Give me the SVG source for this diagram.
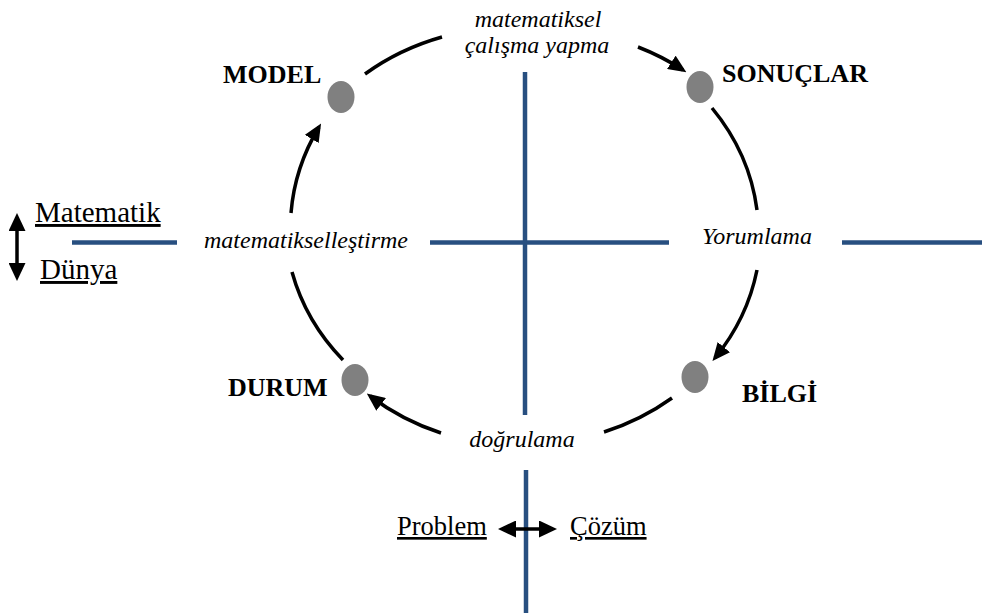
<svg xmlns="http://www.w3.org/2000/svg" width="982" height="613" viewBox="0 0 982 613">
  <style>
    .axis { stroke: #284f80; stroke-width: 4.5; fill: none; }
    .arc { stroke: #000; stroke-width: 3.5; fill: none; }
    .dot { fill: #808080; }
    .node { font-family: "Liberation Serif", "Times New Roman", serif; font-weight: bold; font-size: 26px; fill: #000; }
    .step { font-family: "Liberation Serif", "Times New Roman", serif; font-style: italic; font-size: 24px; fill: #000; text-anchor: middle; }
    .side { font-family: "Liberation Serif", "Times New Roman", serif; font-size: 29px; fill: #000; text-decoration: underline; }
    .dir { stroke: #000; stroke-width: 3.5; fill: none; }
  </style>
  <defs>
    <marker id="head" markerUnits="userSpaceOnUse" markerWidth="18" markerHeight="16" refX="14" refY="8" orient="auto">
      <path d="M0,0 L18,8 L0,16 z" fill="#000"/>
    </marker>
    <marker id="dirHead" markerUnits="userSpaceOnUse" markerWidth="18" markerHeight="17" refX="14" refY="8.5" orient="auto-start-reverse">
      <path d="M0,0 L18,8.5 L0,17 z" fill="#000"/>
    </marker>
  </defs>

  <rect width="982" height="613" fill="#fff"/>

  <!-- quadrant axes -->
  <g id="axes">
    <line class="axis" x1="525" y1="72" x2="525" y2="415"/>
    <line class="axis" x1="526" y1="470" x2="526" y2="613"/>
    <line class="axis" x1="72" y1="242.5" x2="177" y2="242.5"/>
    <line class="axis" x1="430" y1="242.5" x2="669" y2="242.5"/>
    <line class="axis" x1="842" y1="242.5" x2="982" y2="242.5"/>
  </g>

  <!-- axis captions -->
  <g id="axis-labels">
    <line class="dir" x1="17" y1="217" x2="17" y2="277" marker-start="url(#dirHead)" marker-end="url(#dirHead)"/>
    <text class="side" x="35" y="222">Matematik</text>
    <text class="side" x="40" y="279">Dünya</text>
    <line class="dir" x1="502" y1="529" x2="553" y2="529" marker-start="url(#dirHead)" marker-end="url(#dirHead)"/>
    <text class="side" x="397" y="535" style="font-size:26.5px">Problem</text>
    <text class="side" x="570" y="535" style="font-size:26.5px">Çözüm</text>
  </g>

  <!-- cycle connectors -->
  <g id="connectors">
    <path class="arc" d="M343,360 A235,212 0 0 1 292,272"/>
    <path class="arc" d="M291,213 A235,212 0 0 1 319,127" marker-end="url(#head)"/>
    <path class="arc" d="M365,74 A235,212 0 0 1 442,37"/>
    <path class="arc" d="M638,47 A235,212 0 0 1 683,70" marker-end="url(#head)"/>
    <path class="arc" d="M712,108 A235,212 0 0 1 757,210"/>
    <path class="arc" d="M757,270 A235,212 0 0 1 715,358" marker-end="url(#head)"/>
    <path class="arc" d="M672,398 A235,212 0 0 1 604,432"/>
    <path class="arc" d="M441,433 A235,212 0 0 1 370,396" marker-end="url(#head)"/>

    <text class="step" x="538" y="27">matematiksel</text>
    <text class="step" x="537" y="53">çalışma yapma</text>
    <text class="step" x="757" y="244">Yorumlama</text>
    <text class="step" x="522" y="447">doğrulama</text>
    <text class="step" x="306" y="248">matematikselleştirme</text>
  </g>

  <!-- cycle stages -->
  <g id="model">
    <ellipse class="dot" cx="341" cy="97" rx="13.5" ry="16"/>
    <text class="node" x="223" y="83">MODEL</text>
  </g>
  <g id="sonuclar">
    <ellipse class="dot" cx="700" cy="87" rx="13.5" ry="16"/>
    <text class="node" x="722" y="82">SONUÇLAR</text>
  </g>
  <g id="bilgi">
    <ellipse class="dot" cx="695" cy="377" rx="13.5" ry="16"/>
    <text class="node" x="742" y="402">BİLGİ</text>
  </g>
  <g id="durum">
    <ellipse class="dot" cx="355" cy="380" rx="13.5" ry="16"/>
    <text class="node" x="228" y="396">DURUM</text>
  </g>
</svg>
